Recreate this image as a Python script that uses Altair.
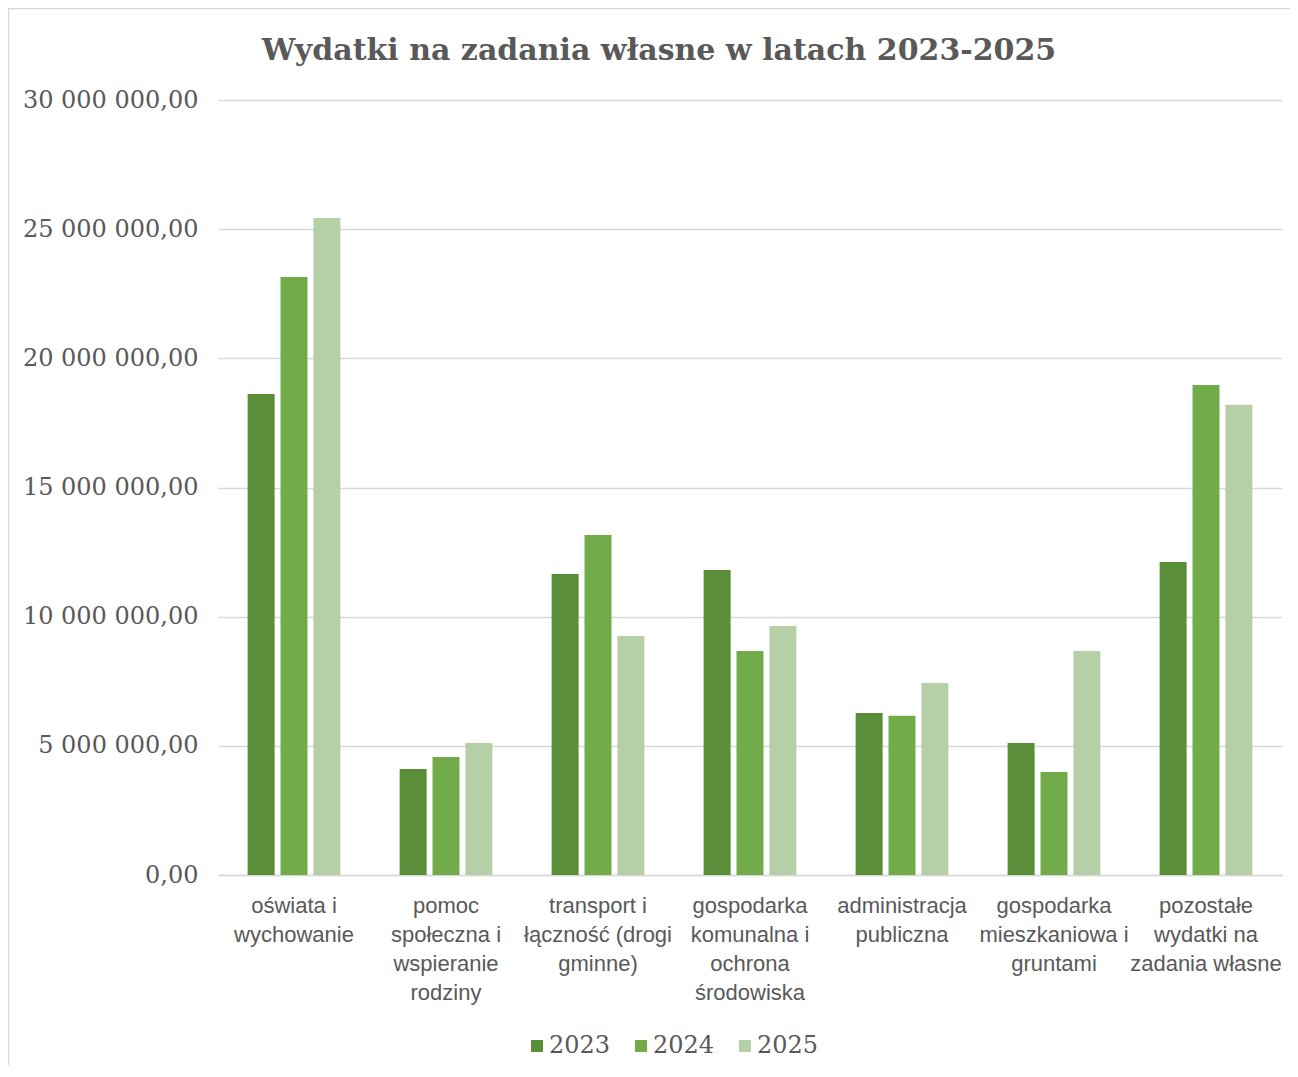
import altair as alt
import pandas as pd

categories = [
    "oświata i wychowanie",
    "pomoc społeczna i wspieranie rodziny",
    "transport i łączność (drogi gminne)",
    "gospodarka komunalna i ochrona środowiska",
    "administracja publiczna",
    "gospodarka mieszkaniowa i gruntami",
    "pozostałe wydatki na zadania własne",
]
label_lines = [
    ["oświata i", "wychowanie"],
    ["pomoc", "społeczna i", "wspieranie", "rodziny"],
    ["transport i", "łączność (drogi", "gminne)"],
    ["gospodarka", "komunalna i", "ochrona", "środowiska"],
    ["administracja", "publiczna"],
    ["gospodarka", "mieszkaniowa i", "gruntami"],
    ["pozostałe", "wydatki na", "zadania własne"],
]
years = ["2023", "2024", "2025"]
values_2023 = [18620000, 4100000, 11650000, 11810000, 6270000, 5110000, 12120000]
values_2024 = [23150000, 4570000, 13160000, 8670000, 6160000, 3990000, 18970000]
values_2025 = [25430000, 5110000, 9250000, 9640000, 7430000, 8670000, 18200000]
colors = ["#5B8E39", "#72AC4A", "#B5CFA7"]
y_ticks = [0, 5000000, 10000000, 15000000, 20000000, 25000000, 30000000]

rows = []
for yr, vals in zip(years, [values_2023, values_2024, values_2025]):
    for c, v in zip(categories, vals):
        rows.append({"category": c, "year": yr, "value": v})
df = pd.DataFrame(rows)

def js_arr(lines):
    return "[" + ",".join("'" + l + "'" for l in lines) + "]"

x_expr = ""
for c, lines in zip(categories, label_lines):
    x_expr += f"datum.value == '{c}' ? {js_arr(lines)} : "
x_expr += "datum.value"

y_expr = "replace(replace(replace(format(datum.value, ',.2f'), '.', '#'), regexp(',', 'g'), ' '), '#', ',')"

grey = "#595959"

bars = alt.Chart(df).mark_bar().encode(
    x=alt.X(
        "category:N",
        sort=categories,
        scale=alt.Scale(paddingInner=0.39, paddingOuter=0.195),
        axis=alt.Axis(
            title=None, labelAngle=0, labelExpr=x_expr,
            labelFont="Liberation Sans", labelFontSize=22, labelColor=grey,
            labelLineHeight=29, labelBaseline="top", labelPadding=20,
            labelLimit=300, labelOverlap=False,
            ticks=False, domainColor="#D9D9D9", domainWidth=1.5,
        ),
    ),
    xOffset=alt.XOffset("year:N", sort=years, scale=alt.Scale(paddingInner=0.18, paddingOuter=0)),
    y=alt.Y(
        "value:Q",
        scale=alt.Scale(domain=[0, 30000000], nice=False),
        axis=alt.Axis(
            title=None, values=y_ticks, labelExpr=y_expr,
            labelFont="DejaVu Serif", labelFontSize=24, labelColor=grey,
            labelPadding=20, ticks=False, domain=False,
            gridColor="#D9D9D9", gridWidth=1.5,
        ),
    ),
    color=alt.Color(
        "year:N",
        sort=years,
        scale=alt.Scale(domain=years, range=colors),
        legend=alt.Legend(
            orient="none", legendX=307, legendY=934, direction="horizontal",
            title=None, symbolType="square", symbolSize=144, symbolStrokeWidth=0,
            labelFont="DejaVu Serif", labelFontSize=24, labelColor=grey,
            columnPadding=18, labelOffset=0,
        ),
    ),
)

frame = alt.Chart(alt.Data(values=[{}])).mark_rect(
    fill=None, stroke="#D9D9D9", strokeWidth=1.5
).encode(
    x=alt.value(-209.5), x2=alt.value(1200), y=alt.value(-91.5), y2=alt.value(1100)
)

chart = alt.layer(frame, bars).properties(
    width=1064,
    height=775,
    padding={"left": 210, "top": 92, "right": 8, "bottom": 190},
    autosize="none",
    title=alt.Title(
        "Wydatki na zadania własne w latach 2023-2025",
        font="DejaVu Serif", fontSize=30, fontWeight="bold", color=grey,
        anchor="middle", dx=-91, dy=80, offset=22,
    ),
).configure_view(stroke=None)

chart.save("out.html", embed_options={"renderer": "svg", "actions": False})
